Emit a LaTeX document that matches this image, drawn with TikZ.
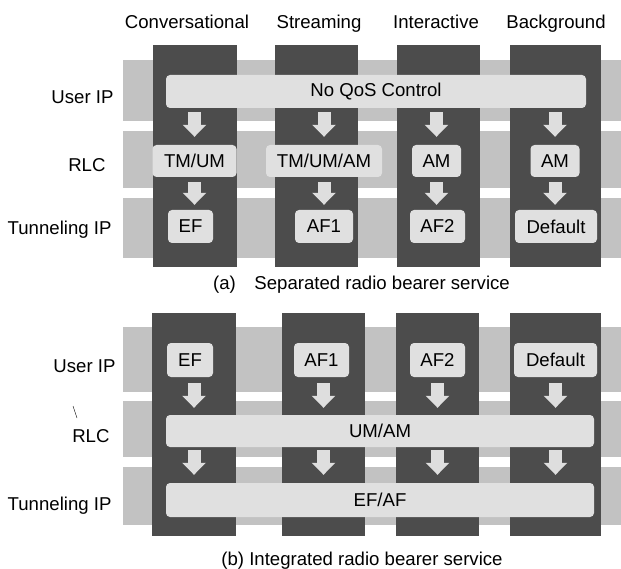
\documentclass[tikz,border=0pt]{standalone}
\usepackage{fontspec}
\setmainfont{Liberation Sans}
\usetikzlibrary{arrows.meta, calc}
\definecolor{faixacor}{gray}{0.76}
\definecolor{colunacor}{gray}{0.30}
\definecolor{caixacor}{gray}{0.88}
\definecolor{setacor}{gray}{0.87}

\begin{document}
\begin{tikzpicture}[x=1pt, y=-1pt,
    every node/.style={font=\fontsize{18.6}{20}\selectfont},
    coluna/.style={fill=colunacor, inner sep=0pt},
    caixa/.style={fill=caixacor, rounded corners=4pt, inner sep=0pt, minimum height=33pt},
    seta/.style={draw=setacor, line width=13pt, -{Triangle[width=23pt, length=12pt]}},
    rotulo/.style={anchor=base east}]
    \useasboundingbox (0,0) rectangle (621,569);
    % Faixas das camadas
    \foreach \a/\b in {60/121, 131/188, 198/258, 327/392, 401/457, 467/525}
      \fill[faixacor] (123,\a) rectangle (621,\b);
    % Cabecalhos
    \node[anchor=base] (hconv) at (187,29) {Conversational};
    \node[anchor=base] (hstre) at (319,29) {Streaming};
    \node[anchor=base] (hinte) at (436,29) {Interactive};
    \node[anchor=base] (hback) at (556,29) {Background};

    % (a) Colunas
    \node[coluna, minimum width=84pt, minimum height=222pt] (k1) at (194.5,156) {};
    \node[coluna, minimum width=83pt, minimum height=222pt] (k2) at (316.5,156) {};
    \node[coluna, minimum width=83pt, minimum height=222pt] (k3) at (438,156) {};
    \node[coluna, minimum width=91pt, minimum height=222pt] (k4) at (555.5,156) {};
    % (a) Rotulos
    \node[rotulo] (uip1) at (117,104) {User IP};
    \node[rotulo] (rlc1) at (109,172) {RLC};
    \node[rotulo] (tip1) at (115,235) {Tunneling IP};
    % (a) Caixas
    \node[caixa, minimum width=420pt] (qos) at (376,91.5) {No QoS Control};
    \node[caixa, minimum width=84pt, minimum height=32pt] (tmum) at (194.5,161) {TM/UM};
    \node[caixa, minimum width=116pt, minimum height=32pt] (tmumam) at (324,161) {TM/UM/AM};
    \node[caixa, minimum width=49pt, minimum height=32pt] (am1) at (436.5,161) {AM};
    \node[caixa, minimum width=49pt, minimum height=32pt] (am2) at (555,161) {AM};
    \node[caixa, minimum width=45pt] (ef1) at (190.5,226.5) {EF};
    \node[caixa, minimum width=58pt] (af1) at (324,226.5) {AF1};
    \node[caixa, minimum width=55pt] (af2) at (437.5,226.5) {AF2};
    \node[caixa, minimum width=82pt] (def1) at (556,226.5) {Default};
    % (a) Setas
    \foreach \r in {tmum, tmumam, am1, am2}
      \draw[seta, shorten <=4pt, shorten >=8pt] (qos.south -| \r) -- (\r.north);
    \draw[seta, shorten <=5pt, shorten >=5pt] (tmum.south) -- (ef1.north -| tmum);
    \draw[seta, shorten <=5pt, shorten >=5pt] (tmumam.south) -- (af1.north -| tmumam);
    \draw[seta, shorten <=5pt, shorten >=5pt] (am1.south) -- (af2.north -| am1);
    \draw[seta, shorten <=5pt, shorten >=5pt] (am2.south) -- (def1.north -| am2);
    \node[anchor=base] (capa) at (361.5,290) {(a)\quad Separated radio bearer service};

    % (b) Colunas
    \node[coluna, minimum width=84pt, minimum height=223pt] (k5) at (194,424.5) {};
    \node[coluna, minimum width=83pt, minimum height=223pt] (k6) at (323.5,424.5) {};
    \node[coluna, minimum width=83pt, minimum height=223pt] (k7) at (437.5,424.5) {};
    \node[coluna, minimum width=91pt, minimum height=223pt] (k8) at (555.5,424.5) {};
    % (b) Rotulos
    \node[rotulo] (uip2) at (119,372) {User IP};
    \node[rotulo] (rlc2) at (113,442) {RLC};
    \node[rotulo] (tip2) at (115,510) {Tunneling IP};
    \draw[thin] (73,406) -- (77,418);
    % (b) Caixas
    \node[caixa, minimum width=46pt, minimum height=34pt] (ef2) at (190,360) {EF};
    \node[caixa, minimum width=55pt, minimum height=34pt] (af1b) at (321.5,360) {AF1};
    \node[caixa, minimum width=55pt, minimum height=34pt] (af2b) at (437.5,360) {AF2};
    \node[caixa, minimum width=83pt, minimum height=34pt] (def2) at (555.5,360) {Default};
    \node[caixa, minimum width=428pt, minimum height=32pt] (umam) at (380,431) {UM/AM};
    \node[caixa, minimum width=428pt, minimum height=34pt] (efaf) at (380,500) {EF/AF};
    % (b) Setas
    \foreach \t/\k in {ef2/k5, af1b/k6, af2b/k7, def2/k8}{
      \draw[seta, shorten <=6pt, shorten >=7pt] (\t.south -| \k) -- (umam.north -| \k);
      \draw[seta, shorten <=3pt, shorten >=8pt] (umam.south -| \k) -- (efaf.north -| \k);
    }
    \node[anchor=base] (capb) at (362,565) {(b) Integrated radio bearer service};
  \end{tikzpicture}
\end{document}
